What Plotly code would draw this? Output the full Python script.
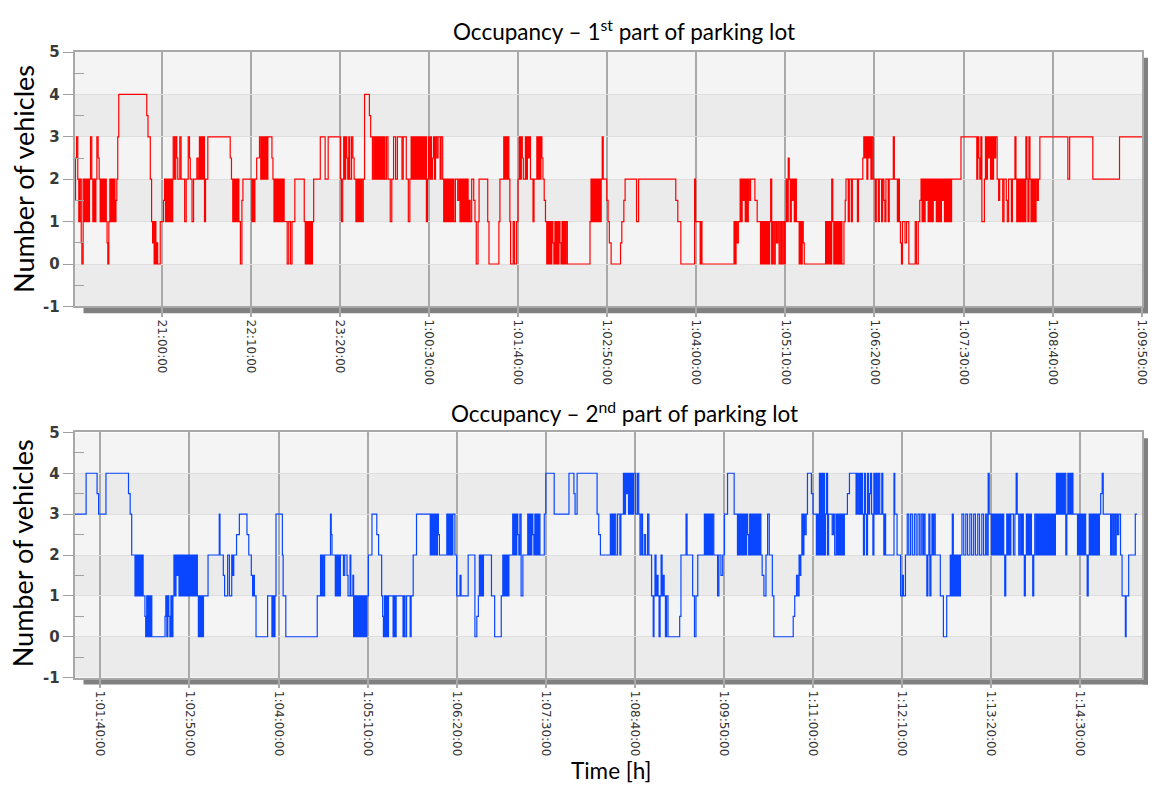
import plotly.graph_objects as go

# Occupancy change points: (minute since day-0 midnight, number of vehicles)
part1_steps = [
    (1191.5, 1.5), (1192, 2.5), (1192.8, 3), (1193.8, 2), (1194.6, 1), (1195.5, 2), (1196.5, 0.5), (1197, 0),
    (1198, 2), (1199, 1), (1199.8, 2), (1200.6, 1), (1201.4, 2), (1202.2, 1), (1203, 2), (1203.8, 3),
    (1204.8, 2), (1205.6, 1), (1206.4, 2), (1207.2, 1), (1208, 2), (1208.8, 3), (1209.8, 2.5), (1210.6, 2),
    (1211.4, 1), (1212.2, 2), (1213, 1), (1213.8, 2), (1214.6, 1), (1215.4, 2), (1216.2, 1), (1216.8, 0.5),
    (1217.4, 0), (1218.2, 1), (1219, 2), (1219.8, 1), (1220.6, 2), (1221.4, 1), (1222.2, 2), (1223, 1),
    (1223.8, 1.5), (1224.5, 2), (1225.2, 3), (1226, 4),
    (1248, 3.5), (1249, 3), (1250.8, 2), (1251.8, 1), (1252.6, 0.5), (1253.2, 1), (1253.8, 0), (1254.6, 1),
    (1255.2, 0), (1256, 0.5), (1256.6, 0), (1258.6, 1), (1261.2, 1.5), (1262, 2), (1262.8, 1), (1263.6, 2),
    (1264.4, 1), (1265.2, 2), (1266, 1), (1266.8, 2), (1267.6, 1), (1268.4, 2), (1268.8, 3), (1269.8, 2),
    (1270.8, 3), (1271.6, 2.5), (1272.4, 2), (1274, 3), (1275, 2), (1277.8, 1), (1279, 2), (1280.6, 3),
    (1281.6, 2.5), (1282.2, 2), (1283.6, 1), (1284.8, 2), (1287.4, 2.5), (1288.4, 2), (1289.4, 3), (1290.2, 2),
    (1291, 3), (1291.8, 2), (1292.6, 3), (1293.4, 1), (1294.2, 2), (1296, 3),
    (1313.6, 2.5), (1314.6, 2), (1315.6, 1), (1316.4, 2), (1317.2, 1), (1318, 2), (1318.8, 1), (1319.6, 2),
    (1320.4, 1), (1321.6, 0), (1322.8, 1.5), (1323.6, 2), (1330.6, 1), (1331.4, 2), (1332.2, 1), (1333, 2),
    (1334.4, 2.5), (1336.6, 3), (1337.6, 2), (1338.4, 3), (1339.2, 2), (1340, 3), (1340.8, 2), (1341.6, 3),
    (1342.4, 2), (1343.2, 3), (1346.4, 2.5), (1347.2, 2), (1348, 1), (1348.8, 2), (1349.6, 1), (1350.4, 2),
    (1351.2, 1), (1352, 2), (1352.8, 1), (1353.6, 2), (1354.4, 1), (1355.2, 2), (1356, 1), (1358.4, 0),
    (1359.6, 1), (1361, 0), (1362.2, 1), (1364.4, 2), (1371.8, 1), (1372.6, 0), (1373.4, 1), (1374.2, 0),
    (1375, 1), (1375.8, 0), (1376.6, 1), (1377.4, 0), (1378.2, 1), (1379.2, 2), (1384.4, 3), (1388.2, 2),
    (1390.6, 3),
    (1400.4, 2), (1401, 1), (1402, 2), (1402.8, 3), (1403.6, 2), (1404.4, 3), (1405.2, 2.5), (1406, 2),
    (1406.8, 3), (1407.6, 2), (1409, 3), (1410, 2.5), (1411, 2), (1412.4, 1), (1413.2, 2), (1414, 1),
    (1414.8, 2), (1415.6, 1), (1416.4, 2), (1417.2, 1), (1418.2, 2), (1419.2, 4), (1423, 3.5), (1424, 3),
    (1425.4, 2), (1426.4, 3), (1427.2, 2), (1428, 3), (1428.8, 2), (1429.6, 3), (1430.4, 2), (1431.2, 3),
    (1432, 2), (1432.8, 3), (1433.6, 2), (1434.4, 3), (1435.2, 2), (1436.4, 3), (1437.6, 2), (1439.4, 1),
    (1440.6, 2), (1442, 3), (1443.6, 2), (1445, 3), (1448.6, 2), (1449.6, 3), (1452, 2), (1453.6, 1),
    (1454.8, 2), (1455.8, 3), (1456.6, 2), (1457.4, 3), (1458.2, 2), (1459, 3), (1459.8, 2), (1460.6, 3),
    (1461.4, 2), (1462.2, 3), (1463, 2), (1463.8, 3), (1464.6, 2), (1465.4, 3), (1466.2, 2), (1467, 3),
    (1467.8, 1), (1468.6, 2), (1469.4, 3), (1470.2, 2), (1471, 3), (1471.8, 2), (1472.6, 2.5), (1473.4, 3),
    (1474.2, 2), (1475, 3), (1476, 2.5), (1477, 3), (1478.6, 2), (1479.4, 3), (1480.6, 2),
    (1481.4, 1), (1482.2, 2), (1483, 1), (1483.8, 2), (1484.6, 1), (1485.4, 2), (1486.2, 1), (1487, 2),
    (1487.8, 1), (1488.6, 2), (1489.4, 1), (1490.6, 2), (1492.4, 1.5), (1493.4, 2), (1494.2, 1), (1495, 2),
    (1495.8, 1), (1496.6, 2), (1497.4, 1), (1498.2, 2), (1499, 1), (1499.8, 2), (1500.6, 1), (1501.4, 1.5),
    (1502.2, 1), (1503.4, 2), (1505, 1.5), (1506, 1), (1507, 0), (1508.4, 1), (1509.2, 2), (1516, 1),
    (1517, 0), (1524.8, 1), (1525.6, 2), (1528.6, 3), (1529.4, 2), (1530.2, 3), (1531, 2), (1531.8, 3),
    (1532.6, 2), (1533.4, 1), (1534, 0), (1536, 1), (1537, 0), (1538.6, 1), (1539.8, 2),
    (1540.8, 3), (1541.6, 2), (1542.4, 3), (1543.2, 2.5), (1544, 2), (1545.6, 3), (1546.4, 2), (1547.2, 3),
    (1548, 2.5), (1548.8, 3), (1549.6, 2), (1551.6, 1), (1552.4, 2), (1554.6, 3), (1555.4, 2), (1556.2, 3),
    (1557, 2), (1557.8, 3), (1558.6, 2.5), (1559.4, 2), (1560.4, 1.5), (1561.4, 1), (1562.4, 0), (1563.2, 1),
    (1564, 0), (1564.8, 1), (1565.6, 0), (1566.4, 1), (1567.2, 0.5), (1568, 0), (1568.8, 1), (1569.6, 0),
    (1570.4, 1), (1571.2, 0), (1572, 1), (1572.8, 0.5), (1573.6, 0), (1574.4, 1), (1575.2, 0), (1576, 1),
    (1576.8, 0), (1577.6, 1), (1578.6, 0),
    (1596.4, 1), (1597.2, 2), (1598, 1), (1598.8, 2), (1599.6, 1), (1600.4, 2), (1601.2, 1), (1602, 2),
    (1602.8, 1), (1603.6, 2), (1604.4, 1), (1605.2, 2), (1606, 3), (1606.8, 2), (1609.6, 1.5), (1610.6, 1),
    (1611.6, 0.5), (1613, 0), (1620.4, 0.5), (1621.4, 1), (1623, 1.5), (1624, 2), (1633, 1), (1634.6, 2),
    (1663.8, 1.5), (1665.4, 1), (1667.8, 0), (1678.6, 2), (1679.4, 1), (1683, 0), (1683.6, 1), (1684.4, 0),
    (1709.6, 1), (1710.4, 0), (1711.2, 1), (1712, 0.5), (1713, 1), (1714.4, 2), (1715.2, 1), (1716, 2),
    (1716.8, 1.5), (1717.6, 2), (1718.4, 1), (1719.2, 2), (1720, 1), (1720.8, 2), (1721.6, 1.5), (1722.6, 2),
    (1726, 1.5), (1727.8, 1), (1730.4, 0), (1731.2, 1), (1732, 0), (1732.8, 1), (1733.6, 0), (1734.4, 1),
    (1735.2, 0), (1736, 1), (1736.8, 0), (1737.6, 1), (1738.4, 2), (1739.2, 0), (1740, 1), (1741, 0),
    (1742, 1), (1743, 0.5), (1744, 1), (1745, 0), (1746, 1), (1747, 0), (1748, 1), (1749, 0), (1749.8, 1),
    (1750.6, 2), (1751.4, 1), (1752.2, 2.5), (1753, 2), (1753.8, 1), (1754.6, 2), (1755.4, 1.5), (1756.2, 2),
    (1757, 1), (1757.8, 2), (1758.6, 1), (1760.8, 0), (1761.6, 1), (1762.4, 0), (1763.2, 1), (1764, 0.5),
    (1764.8, 0),
    (1781.6, 1), (1782.4, 0), (1783.2, 1), (1784, 0), (1784.8, 1), (1785.6, 0), (1786.4, 2), (1787.2, 1),
    (1788, 0), (1788.8, 1), (1789.6, 0), (1790.4, 1), (1791.2, 0), (1792, 1), (1792.8, 0), (1793.6, 1),
    (1794.4, 0), (1796, 1), (1797, 1.5), (1797.6, 2), (1799.4, 1), (1800.2, 2), (1801.8, 1), (1802.6, 2),
    (1806.6, 1), (1807.4, 2), (1810.8, 2.5), (1811.6, 3), (1812.4, 2.5), (1813.2, 3), (1814, 2), (1814.8, 3),
    (1815.6, 2.5), (1816.4, 3), (1817.2, 2), (1818, 3), (1819, 2),
    (1820.6, 1), (1821.4, 2), (1823, 1), (1823.8, 2), (1825.6, 1), (1826.4, 2), (1827.4, 1.5), (1828.2, 1),
    (1829, 2), (1830.8, 1), (1831.6, 2), (1834.8, 3), (1835.6, 2), (1838, 1), (1838.8, 2), (1839.6, 1),
    (1840.4, 0.5), (1841.2, 0), (1842, 1), (1844, 0.5), (1845.2, 1), (1847, 0), (1852, 1), (1853, 0),
    (1854.4, 1), (1855.6, 1.5), (1856.6, 2),
    (1857.4, 1), (1858.2, 2), (1859, 1), (1859.8, 2), (1860.6, 1.5), (1861.4, 2), (1862.2, 1), (1863, 2),
    (1863.8, 1), (1864.6, 2), (1865.4, 1), (1866.2, 2), (1867, 1.5), (1867.8, 2), (1868.6, 1), (1869.4, 2),
    (1870.2, 1), (1871, 2), (1871.8, 1), (1872.6, 2), (1873.4, 1.5), (1874.2, 2), (1875, 1), (1875.8, 2),
    (1876.6, 1), (1877.4, 2), (1878.2, 1), (1879, 2), (1879.8, 1), (1880.6, 2),
    (1888, 3), (1900.4, 2), (1901.2, 3), (1902, 2.5), (1902.8, 2), (1903.6, 3), (1904.4, 1), (1906.4, 2),
    (1907.2, 3), (1908, 2), (1908.8, 3), (1909.6, 2.5), (1910.4, 3), (1911.2, 2), (1912, 3), (1912.8, 2),
    (1913.6, 3), (1914.4, 2.5), (1915.2, 3), (1916.4, 2), (1917.6, 1.5), (1918.4, 2), (1920.8, 1), (1921.8, 2),
    (1923.6, 1.5), (1924.4, 1), (1925.4, 2), (1927.6, 1), (1928.4, 2), (1930.4, 3), (1931.2, 2), (1931.8, 1),
    (1932.6, 2), (1933.4, 1), (1934.2, 2), (1935, 1), (1935.8, 2), (1936.6, 1), (1937.4, 2), (1938.2, 1),
    (1939, 3), (1939.8, 2), (1940.6, 1), (1941.4, 3), (1942.2, 2), (1943, 1), (1943.8, 2), (1944.6, 1),
    (1945.4, 2), (1946.2, 1), (1947, 2), (1948, 1.5), (1948.8, 2), (1950, 3), (1972, 2), (1973.4, 3),
    (1991.6, 2), (2012.6, 3), (2030.5, 3),
]

part2_steps = [
    (1520, 3), (1528.8, 4), (1537.4, 3.5), (1538.6, 3), (1544.4, 4), (1562.1, 3.5), (1563.4, 3), (1564.6, 2),
    (1567.2, 1), (1568, 2), (1568.8, 1), (1569.6, 2), (1570.4, 1), (1571.2, 2), (1572, 1), (1572.8, 2),
    (1573.6, 1), (1575, 0.5), (1575.6, 0), (1576.4, 1), (1577.2, 0), (1578, 1), (1578.8, 0), (1579.6, 1),
    (1580.4, 0), (1590.8, 0.5), (1591.4, 1), (1592.2, 0), (1593, 1), (1593.8, 0.5), (1594.6, 0), (1595.4, 1),
    (1596.2, 0), (1597, 1), (1597.8, 2), (1598.6, 1), (1599.4, 2), (1600.2, 1.5), (1601, 2), (1601.8, 1),
    (1602.6, 2), (1603.4, 1), (1604.2, 2), (1605, 1), (1605.8, 2), (1606.6, 1), (1607.4, 2), (1608.2, 1),
    (1609, 2), (1609.8, 1), (1610.6, 2), (1611.4, 1), (1612.2, 2), (1613, 1), (1613.8, 2), (1614.6, 1),
    (1615.4, 2), (1616.2, 1), (1617, 0), (1617.8, 1), (1618.6, 0), (1619.4, 1), (1620.2, 0), (1621, 1),
    (1624.6, 2), (1633.4, 3), (1634, 2), (1636.6, 1.5), (1637.6, 1), (1640, 2), (1641.4, 1), (1643.2, 2),
    (1644, 1.5), (1644.8, 2), (1647, 2.5), (1649.2, 3), (1655.2, 2.5), (1656.6, 2), (1658.6, 1.5), (1659.6, 1),
    (1660.4, 1.5), (1661, 1), (1662.3, 0), (1671.4, 1), (1674.8, 0), (1675.6, 1), (1676.4, 0), (1677.2, 1),
    (1678, 3), (1683, 2), (1683.6, 1), (1685.7, 0), (1710.4, 1), (1713, 2), (1713.6, 1), (1714.4, 2),
    (1715.2, 1), (1716.2, 2), (1720.8, 3), (1721.4, 2.5), (1722, 2), (1724.6, 1), (1725.4, 2), (1726.2, 1),
    (1727, 2), (1727.8, 1), (1728.6, 2), (1731, 1.5), (1732, 2), (1733.8, 1.5), (1734.6, 1), (1736.2, 2),
    (1736.8, 1), (1738.4, 1.5), (1739, 0), (1739.8, 1), (1740.6, 0), (1741.4, 1), (1742.2, 0), (1743, 1),
    (1743.8, 0), (1744.6, 1), (1745.4, 0), (1746.2, 1), (1747, 0), (1747.8, 1), (1748.6, 0), (1749.4, 1),
    (1750.6, 2), (1753.4, 3), (1757.2, 2.5), (1758.6, 2), (1761, 1), (1761.8, 0.5), (1762.4, 0), (1763.2, 1),
    (1764, 0), (1764.8, 1), (1765.6, 0), (1766.4, 1), (1770, 0), (1770.8, 1), (1771.6, 0), (1772.4, 1),
    (1777.8, 0), (1778.6, 1), (1779.4, 0), (1780.6, 1), (1783.4, 0), (1784.2, 1), (1785.8, 2), (1788.4, 3),
    (1799.2, 2), (1800, 3), (1800.8, 2), (1801.6, 3), (1802.4, 2), (1803.2, 3), (1804, 2), (1804.8, 3),
    (1805.6, 2.5), (1806.4, 2), (1812.2, 3), (1813, 2), (1813.8, 3), (1814.6, 2), (1815.4, 3), (1816.2, 2),
    (1817, 3), (1818.6, 2), (1820, 1), (1822.6, 1.5), (1823.4, 1), (1829, 2), (1834.3, 0), (1835.8, 0.5),
    (1837, 1), (1837.8, 2), (1838.6, 1), (1839.4, 2), (1840.2, 1), (1841, 2), (1847.3, 1), (1849.8, 0),
    (1855, 1), (1856.2, 2), (1857, 1), (1857.8, 2), (1858.6, 1), (1859.4, 2), (1860.2, 1), (1861, 2),
    (1864, 3), (1864.8, 2), (1865.6, 3), (1866.4, 2), (1867.2, 3), (1868, 2.5), (1868.8, 2), (1869.6, 3),
    (1870.6, 1), (1872, 2), (1875.8, 3), (1876.6, 2), (1877.4, 3), (1878.2, 2), (1879, 3), (1879.8, 2.5),
    (1880.6, 2), (1881.4, 3), (1882.2, 2), (1883, 3), (1883.8, 2), (1884.6, 3), (1885.4, 2), (1888.8, 3),
    (1890, 4), (1896.6, 3), (1908.2, 4), (1912.1, 3.5), (1913, 3), (1914.6, 4), (1930.3, 3), (1931.6, 2.5),
    (1932.9, 2), (1940.7, 3), (1941.6, 2), (1942.4, 3), (1943.2, 2), (1944, 3), (1945, 2), (1946.4, 3),
    (1948.2, 2), (1949, 3), (1951, 4), (1951.8, 3), (1952.6, 4), (1953.4, 3.5), (1954.2, 4), (1955, 3),
    (1955.8, 4), (1956.6, 3), (1957.4, 4), (1958.2, 3), (1959, 4), (1960.6, 3), (1962, 4), (1963, 3),
    (1964, 2), (1965, 3), (1966, 2), (1967.4, 2.5), (1968.4, 2), (1970, 3), (1971, 2), (1973.1, 1),
    (1974.4, 0), (1975, 1), (1975.8, 2), (1976.6, 1), (1977.4, 1.5), (1978.2, 1), (1979, 0), (1979.8, 1),
    (1980.6, 2), (1981.4, 1), (1982.2, 1.5), (1983, 1), (1984, 0), (1984.8, 1), (1986, 0), (1995.2, 0.5),
    (1996.2, 2), (2000.2, 3), (2001, 2), (2005.4, 1), (2006.8, 0), (2008, 1), (2009.4, 2), (2014.6, 3),
    (2015.4, 2), (2016.2, 3), (2017, 2), (2017.8, 3), (2018.6, 2), (2019.4, 3), (2020.2, 2), (2021, 3),
    (2022, 2), (2025, 1), (2026, 2), (2027.6, 1.5), (2029, 2), (2030.4, 3), (2032.8, 4), (2038, 3),
    (2040.6, 2), (2041.4, 3), (2042.2, 2), (2043, 3), (2043.8, 2), (2044.6, 3), (2045.4, 2), (2046.2, 3),
    (2047, 2), (2047.8, 3), (2048.6, 2.5), (2049.4, 2), (2050.2, 3), (2051, 2), (2051.8, 3), (2052.6, 2),
    (2053.4, 3), (2054.2, 2), (2055, 3), (2055.8, 2), (2056.6, 3), (2057.4, 2), (2058.2, 3), (2059, 2),
    (2060, 1.5), (2061.4, 1), (2063, 2), (2064.3, 3), (2065.6, 2), (2068, 1), (2069.2, 0),
    (2084.4, 0.5), (2085.6, 1), (2087, 1.5), (2088, 1), (2089, 2), (2089.6, 1.5), (2090.4, 2), (2091.2, 3),
    (2092, 2), (2092.8, 3), (2093.6, 2.5), (2094.6, 3), (2095.6, 4), (2098.7, 3.5), (2100, 3), (2102.6, 2),
    (2103.4, 3), (2104.2, 2), (2105, 4), (2105.8, 2), (2106.6, 4), (2107.4, 2), (2108.2, 4), (2109, 2),
    (2109.8, 3), (2110.6, 4), (2111.4, 2), (2112.2, 3), (2115, 2.5), (2116, 3), (2117, 2), (2118.2, 3),
    (2119, 2), (2119.8, 3), (2120.6, 2), (2121.4, 3), (2122.2, 2), (2123, 3), (2123.8, 2), (2124.6, 3),
    (2127, 3.5), (2128.6, 4), (2133.8, 3), (2134.6, 4), (2135.4, 3), (2136.4, 4), (2137.2, 3), (2138, 4),
    (2138.8, 3), (2139.6, 2), (2140.4, 4), (2141.2, 3), (2142, 2), (2142.8, 4), (2143.6, 3), (2144.4, 3.5),
    (2145.2, 4), (2146, 3), (2147, 2), (2147.8, 4), (2148.6, 3), (2149.6, 4), (2150.4, 3), (2151.4, 4),
    (2152.4, 3), (2154, 4), (2154.8, 3), (2155.6, 2), (2156.4, 3), (2157, 2), (2163.6, 4), (2164.2, 3),
    (2166, 2), (2168.8, 1), (2170.2, 1.5), (2171, 1), (2172.6, 2), (2174, 3), (2175.2, 2), (2176.6, 3),
    (2178, 2), (2179.6, 3), (2181, 2), (2182.4, 3), (2183.8, 2), (2185, 3), (2186.2, 2), (2187, 3),
    (2188, 2), (2189.4, 1), (2190.2, 2), (2191, 3), (2191.8, 1), (2192.6, 2), (2193.4, 3), (2194.2, 2),
    (2195, 3), (2196, 2), (2200, 1), (2202.4, 0), (2205, 1), (2207.8, 2), (2208.6, 1), (2209.4, 3),
    (2210.2, 1), (2211, 2), (2211.8, 1), (2212.6, 2), (2213.4, 1), (2214.2, 2), (2215, 1), (2215.8, 2),
    (2217, 3), (2218.4, 2), (2220, 3), (2221.4, 2), (2223.2, 3), (2224.6, 2), (2226.2, 3), (2227.6, 2),
    (2229.4, 3), (2230.8, 2), (2232.6, 3), (2234, 2), (2235.6, 3), (2236.6, 2), (2237.6, 4), (2238.4, 3),
    (2240.2, 2), (2241, 3), (2241.8, 2), (2242.6, 3), (2243.4, 2), (2244.2, 3), (2245, 2), (2245.8, 3),
    (2246.6, 2), (2247.4, 3), (2248.2, 2), (2249, 3), (2249.8, 2), (2250.6, 1), (2251.4, 2), (2252.2, 3),
    (2253, 2), (2253.8, 3), (2254.6, 2), (2255.4, 3), (2257.4, 2), (2258.6, 3), (2259.6, 4), (2260.4, 3),
    (2261.6, 2), (2262.6, 3), (2263.6, 2), (2264.4, 3), (2265.2, 2), (2266, 1), (2266.8, 2), (2267.6, 3),
    (2268.4, 2), (2269.2, 3), (2270, 2), (2270.8, 3), (2271.6, 2), (2272.6, 1), (2273.4, 2), (2274.2, 3),
    (2275.2, 2), (2276, 3), (2276.8, 2), (2277.6, 3), (2278.4, 2), (2279.2, 3), (2280, 2), (2280.8, 3),
    (2281.6, 2), (2282.4, 3), (2283.2, 2), (2284, 3), (2284.8, 2), (2285.6, 3), (2286.4, 2), (2287.2, 3),
    (2288, 2), (2288.8, 3), (2289.6, 2), (2290.4, 3), (2291.2, 4), (2292, 3), (2292.8, 4), (2293.6, 3),
    (2294.4, 4), (2295.2, 3), (2296, 4), (2296.8, 3), (2297.6, 4), (2298.6, 2), (2299.4, 3), (2300.2, 4),
    (2301, 3), (2301.8, 4), (2302.6, 3), (2303.4, 4), (2304.2, 3), (2307.8, 2), (2308.6, 3), (2309.4, 2),
    (2310.2, 3), (2311, 2), (2311.8, 3), (2312.6, 2), (2313.4, 3), (2314.2, 2), (2315.4, 1), (2316.2, 2),
    (2317, 3), (2317.8, 2), (2318.6, 3), (2319.4, 2), (2320.2, 3), (2321, 2), (2321.8, 3), (2322.6, 2),
    (2323.4, 3), (2324.2, 2), (2325, 3), (2326, 3.5), (2327.2, 4), (2328, 3), (2333.8, 2), (2334.6, 3),
    (2335.6, 2), (2336.4, 3), (2337.4, 2), (2338.2, 3), (2339.2, 2.5), (2340.2, 3), (2341.6, 2), (2342.8, 1),
    (2345.4, 0), (2346, 1), (2348, 2), (2353.2, 3), (2354.6, 3),
]

ticks_part1 = [1260, 1330, 1400, 1470, 1540, 1610, 1680, 1750, 1820, 1890, 1960, 2030]
labels_part1 = ["21:00:00", "22:10:00", "23:20:00", "1:00:30:00", "1:01:40:00", "1:02:50:00",
                "1:04:00:00", "1:05:10:00", "1:06:20:00", "1:07:30:00", "1:08:40:00", "1:09:50:00"]
ticks_part2 = [1540, 1610, 1680, 1750, 1820, 1890, 1960, 2030, 2100, 2170, 2240, 2310]
labels_part2 = ["1:01:40:00", "1:02:50:00", "1:04:00:00", "1:05:10:00", "1:06:20:00", "1:07:30:00",
                "1:08:40:00", "1:09:50:00", "1:11:00:00", "1:12:10:00", "1:13:20:00", "1:14:30:00"]
y_ticks = [-1, 0, 1, 2, 3, 4, 5]
y_labels = ["-1", "0", "1", "2", "3", "4", "5"]

titles = ["Occupancy \u2013 1<sup>st</sup> part of parking lot",
          "Occupancy \u2013 2<sup>nd</sup> part of parking lot"]

W, H = 1156, 796
# plot-area pixel boxes (left, right, top, bottom)
box1 = (75, 1149, 44, 304.3)
box2 = (75, 1149, 433.2, 684.1)

def px_x(p):
    return p / W

def px_y(p):
    return 1 - p / H

fig = go.Figure()
fig.add_trace(go.Scatter(x=[p[0] for p in part1_steps], y=[p[1] for p in part1_steps],
                         mode="lines", line=dict(color="#ff0000", width=1.2, shape="hv"),
                         xaxis="x", yaxis="y", showlegend=False, hoverinfo="skip"))
fig.add_trace(go.Scatter(x=[p[0] for p in part2_steps], y=[p[1] for p in part2_steps],
                         mode="lines", line=dict(color="#0a46ff", width=1.2, shape="hv"),
                         xaxis="x2", yaxis="y2", showlegend=False, hoverinfo="skip"))

tick_font = dict(family="DejaVu Sans", size=12, color="#333333")
ytick_font = dict(family="DejaVu Sans", size=15, color="#3a3a3a", weight="bold")

def xaxis_cfg(box, rng, vals, text, anchor):
    return dict(domain=[px_x(box[0]), px_x(box[1])], range=rng, anchor=anchor,
                tickmode="array", tickvals=vals, ticktext=text, tickangle=90,
                tickfont=tick_font, showgrid=True, gridcolor="#a9a9a9", gridwidth=1.5,
                ticks="outside", ticklen=9, tickcolor="#a9a9a9", tickwidth=1.5,
                showline=True, linecolor="#a8a8a8", linewidth=1.5, mirror=True,
                zeroline=False, fixedrange=True)

def yaxis_cfg(box, anchor):
    return dict(domain=[px_y(box[3]), px_y(box[2])], range=[-1, 5], anchor=anchor,
                tickmode="array", tickvals=y_ticks, ticktext=y_labels, tickfont=ytick_font,
                showgrid=True, gridcolor="#dedede", gridwidth=1,
                ticks="outside", ticklen=10, tickcolor="#a0a0a0", tickwidth=1.2,
                minor=dict(tickvals=[-0.5, 0.5, 1.5, 2.5, 3.5, 4.5], ticks="inside",
                           ticklen=10, tickcolor="#a0a0a0", tickwidth=1.2, showgrid=False),
                showline=True, linecolor="#a8a8a8", linewidth=1.5, mirror=True,
                zeroline=False, fixedrange=True)

shapes = []
# alternating horizontal bands behind the grid
for xr, yr in (("x domain", "y"), ("x2 domain", "y2")):
    for lo in range(-1, 5):
        shade = "#ebebeb" if lo % 2 == 1 else "#f4f4f4"
        shapes.append(dict(type="rect", xref=xr, yref=yr, x0=0, x1=1, y0=lo, y1=lo + 1,
                           fillcolor=shade, line=dict(width=0), layer="below"))
# drop shadow under and right of each frame
for box in (box1, box2):
    l, r, t, b = box
    shapes.append(dict(type="rect", xref="paper", yref="paper",
                       x0=px_x(l + 9), x1=px_x(r + 6), y0=px_y(b + 7), y1=px_y(b + 1),
                       fillcolor="#808080", line=dict(width=0), layer="below"))
    shapes.append(dict(type="rect", xref="paper", yref="paper",
                       x0=px_x(r + 1), x1=px_x(r + 6), y0=px_y(b + 7), y1=px_y(t + 6),
                       fillcolor="#808080", line=dict(width=0), layer="below"))

title_font = dict(family="Lato", size=22.5, color="#000000")
ylabel_font = dict(family="Lato", size=27, color="#000000")
annotations = [
    dict(text=titles[0], x=px_x(628), y=px_y(21), xref="paper", yref="paper",
         showarrow=False, font=title_font, xanchor="center", yanchor="middle"),
    dict(text=titles[1], x=px_x(628), y=px_y(412), xref="paper", yref="paper",
         showarrow=False, font=title_font, xanchor="center", yanchor="middle"),
    dict(text="Number of vehicles", x=px_x(23), y=px_y(174), xref="paper", yref="paper",
         showarrow=False, textangle=-90, font=ylabel_font, xanchor="center", yanchor="middle"),
    dict(text="Number of vehicles", x=px_x(23), y=px_y(557), xref="paper", yref="paper",
         showarrow=False, textangle=-90, font=ylabel_font, xanchor="center", yanchor="middle"),
    dict(text="Time [h]", x=px_x(615), y=px_y(779), xref="paper", yref="paper",
         showarrow=False, font=dict(family="Lato", size=22.5, color="#000000"),
         xanchor="center", yanchor="middle"),
]

fig.update_layout(
    width=W, height=H, margin=dict(l=0, r=0, t=0, b=0),
    paper_bgcolor="#ffffff", plot_bgcolor="rgba(0,0,0,0)",
    xaxis=xaxis_cfg(box1, [1191.25, 2030.3], ticks_part1, labels_part1, "y"),
    yaxis=yaxis_cfg(box1, "x"),
    xaxis2=xaxis_cfg(box2, [1519.7, 2358.5], ticks_part2, labels_part2, "y2"),
    yaxis2=yaxis_cfg(box2, "x2"),
    shapes=shapes, annotations=annotations,
)

fig.write_html("out.html")
